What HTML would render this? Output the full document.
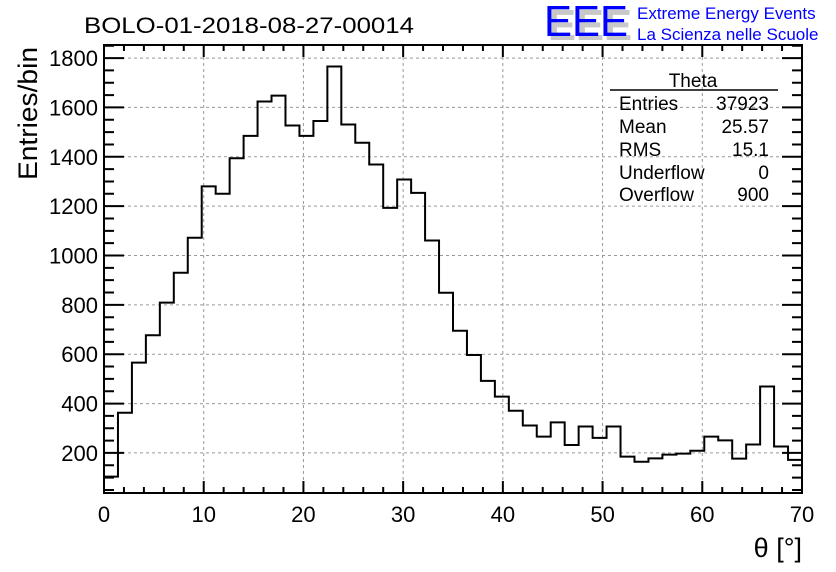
<!DOCTYPE html>
<html><head><meta charset="utf-8"><style>
html,body{margin:0;padding:0;background:#fff;}
svg{display:block;font-family:"Liberation Sans",Arial,sans-serif;}
</style></head><body>
<svg id="chart" width="836" height="572" viewBox="0 0 836 572" xmlns="http://www.w3.org/2000/svg">
<text x="84" y="33" font-size="22" textLength="330" lengthAdjust="spacingAndGlyphs">BOLO-01-2018-08-27-00014</text>
<g>
<text x="548" y="40" font-size="44" fill="#c8c8c8" font-weight="bold" textLength="84" lengthAdjust="spacingAndGlyphs">EEE</text>
<text x="544" y="36" font-size="44" fill="#0000ff" textLength="84" lengthAdjust="spacingAndGlyphs">EEE</text>
<text x="637" y="19" font-size="17" fill="#0000ff">Extreme Energy Events</text>
<text x="637" y="40" font-size="17" fill="#0000ff">La Scienza nelle Scuole</text>
</g>
<g id="grid"></g>
<g id="hist"></g>
<g id="axes"></g>
<g font-size="19">
<text x="693" y="87" text-anchor="middle">Theta</text>
<line x1="610" y1="90" x2="778" y2="90" stroke="#000" stroke-width="1.5"/>
<text x="619" y="110">Entries</text><text x="769" y="110" text-anchor="end">37923</text>
<text x="619" y="133">Mean</text><text x="769" y="133" text-anchor="end">25.57</text>
<text x="619" y="156">RMS</text><text x="769" y="156" text-anchor="end">15.1</text>
<text x="619" y="179">Underflow</text><text x="769" y="179" text-anchor="end">0</text>
<text x="619" y="201">Overflow</text><text x="769" y="201" text-anchor="end">900</text>
</g>
<text transform="translate(37,180) rotate(-90)" font-size="27" textLength="133" lengthAdjust="spacingAndGlyphs">Entries/bin</text>
<text x="802" y="557" font-size="27" text-anchor="end">θ [°]</text>
</svg>
<script>
const binCounts = [104,363,566,677,809,930,1072,1280,1250,1394,1485,1624,1648,1527,1485,1545,1766,1531,1457,1369,1193,1308,1254,1061,849,695,597,492,428,371,311,266,324,232,307,261,307,185,164,178,193,197,209,266,251,177,234,469,226,172];
const xRange = [0,70];
const yRange = [37.6,1853];
const xTickLabels = [0,10,20,30,40,50,60,70];
const yTickLabels = [200,400,600,800,1000,1200,1400,1600,1800];

const L=104,R=802,T=45,B=493;
const NS="http://www.w3.org/2000/svg";
function X(v){return L+(v-xRange[0])/(xRange[1]-xRange[0])*(R-L);}
function Y(v){return B-(v-yRange[0])/(yRange[1]-yRange[0])*(B-T);}
function mk(tag,attrs,parent){const e=document.createElementNS(NS,tag);for(const k in attrs)e.setAttribute(k,attrs[k]);parent.appendChild(e);return e;}
const grid=document.getElementById('grid'),axes=document.getElementById('axes'),hist=document.getElementById('hist');
xTickLabels.forEach(v=>{
  if(v>xRange[0]&&v<xRange[1]){
    const g=mk('line',{x1:X(v),x2:X(v),y1:T,y2:B,stroke:'#999','stroke-dasharray':'3,3','stroke-width':1},grid);
    
    
  }
  const t=mk('text',{x:X(v),y:522,'font-size':22,'text-anchor':'middle'},axes);
  t.textContent=v;
  
  
});
yTickLabels.forEach(v=>{
  const g=mk('line',{x1:L,x2:R,y1:Y(v),y2:Y(v),stroke:'#999','stroke-dasharray':'3,3','stroke-width':1},grid);
  
  
  const t=mk('text',{x:98,y:Y(v)+8,'font-size':22,'text-anchor':'end'},axes);
  t.textContent=v;
  
  
});
let tk='';
for(let v=0;v<=70;v+=2){const len=(v%10===0)?12:6;const x=X(v);tk+=`M${x},${B}v${-len}M${x},${T}v${len}`;}
for(let v=50;v<=1850;v+=50){const y=Y(v);if(y<T||y>B)continue;const len=(v%200===0)?20:10;tk+=`M${L},${y}h${len}M${R},${y}h${-len}`;}
const ticks=mk('path',{d:tk,stroke:'#000','stroke-width':2,fill:'none'},axes);


const frame=mk('rect',{x:L,y:T,width:R-L,height:B-T,fill:'none',stroke:'#000','stroke-width':2},axes);


const w=(xRange[1]-xRange[0])/binCounts.length;
let d=`M${X(0)},${B}`;
binCounts.forEach((c,i)=>{d+=`L${X(i*w)},${Y(c)}L${X((i+1)*w)},${Y(c)}`;});
d+=`L${X(70)},${B}`;
const p=mk('path',{d:d,stroke:'#000','stroke-width':2,fill:'none'},hist);


</script>
</body></html>
